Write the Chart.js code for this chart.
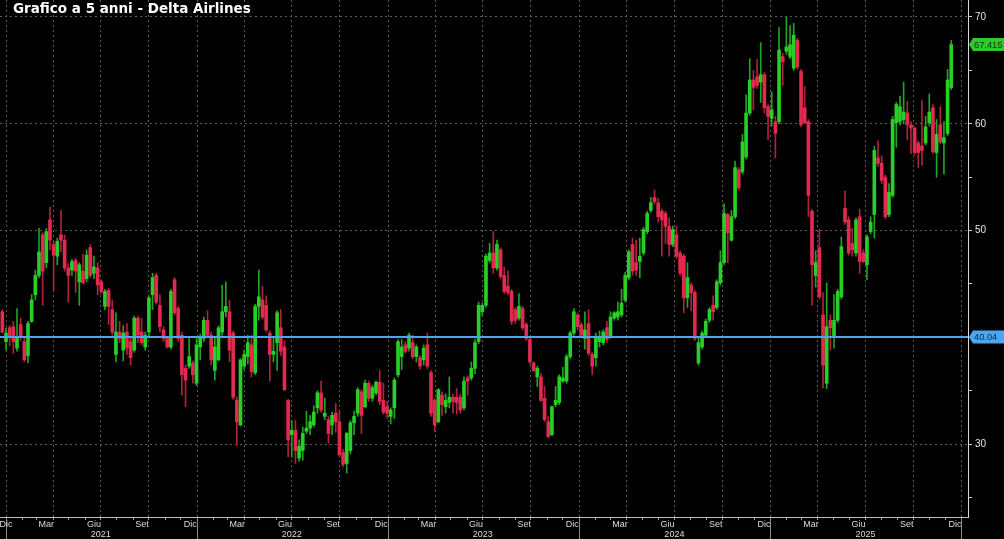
<!DOCTYPE html>
<html>
<head>
<meta charset="utf-8">
<script src="https://cdn.jsdelivr.net/npm/chart.js@4.4.1/dist/chart.umd.min.js"></script>
<style>
  html, body { margin: 0; padding: 0; background: #000; }
  #wrap { width: 1004px; height: 539px; }
</style>
</head>
<body>
<div id="wrap"><canvas id="c" width="1004" height="539"></canvas></div>
<script>
// ---------- DATA ----------
const chartTitle = 'Grafico a 5 anni - Delta Airlines';
const firstWeek = '2020-12-25'; // weekly candles (Fridays)
const monthLabels = ['Dic', 'Mar', 'Giu', 'Set'];
const yearLabels = ['2021', '2022', '2023', '2024', '2025'];
const yTickValues = [25, 30, 35, 40, 45, 50, 55, 60, 65, 70];
const refLevel = 40.04;

const opens = [
42.4,39.6,40.9,41.0,39.0,41.2,39.6,38.3,41.5,44.0,
45.8,49.6,47.0,51.0,48.7,47.6,49.6,49.1,46.5,46.3,
47.2,45.2,46.2,45.5,48.4,46.0,46.5,45.2,42.9,44.4,
42.6,38.4,40.5,38.8,40.5,39.6,38.8,41.8,40.5,39.1,
40.5,44.0,45.8,43.0,40.7,39.9,39.1,45.4,42.7,40.2,
37.1,37.3,37.6,35.7,39.1,39.9,41.6,40.2,36.9,37.9,
40.5,42.4,42.4,40.4,34.1,31.8,37.3,38.2,39.3,36.7,
42.9,43.5,43.0,40.4,38.4,39.5,40.9,39.1,34.1,30.9,
31.3,28.7,29.4,31.2,31.5,31.8,33.4,34.8,32.6,32.3,
31.8,32.9,32.1,29.2,28.2,29.4,32.0,32.9,34.9,33.5,
35.7,34.3,34.8,35.8,34.1,33.5,32.6,33.4,36.5,38.2,
39.3,39.0,39.5,38.2,38.1,37.9,39.3,36.7,34.1,32.1,
34.6,33.5,33.9,34.4,34.4,34.4,33.4,36.2,36.2,37.1,
39.6,42.4,43.0,47.2,47.9,46.5,48.2,45.8,44.8,44.3,
42.6,41.8,42.7,41.2,39.8,37.6,36.3,36.3,34.3,32.1,
30.9,33.7,33.9,35.9,35.9,38.2,40.4,42.1,41.2,39.9,
41.3,38.4,38.1,39.6,39.5,40.9,40.1,41.8,41.9,42.1,
43.5,45.6,48.7,47.0,47.1,47.9,49.9,51.9,53.1,52.6,
51.8,51.6,50.4,48.7,49.6,47.9,47.6,43.7,44.9,44.2,
37.6,39.1,40.2,41.6,43.0,42.8,45.1,47.0,51.5,49.1,
51.3,55.7,55.5,56.9,61.0,64.1,64.4,63.9,64.6,61.6,
60.5,60.2,60.2,66.3,66.8,66.3,65.2,67.8,64.9,61.5,
60.2,51.8,45.8,48.4,42.1,35.7,41.6,40.1,41.6,43.8,
52.1,51.0,48.8,47.9,51.3,47.9,46.8,49.9,51.5,56.8,
56.3,55.0,51.5,53.3,60.1,60.2,60.4,61.0,59.9,59.6,
58.2,57.9,58.2,60.1,61.5,57.3,59.9,58.2,59.1,63.4
];
const highs = [
42.6,40.9,41.1,41.5,42.7,41.8,40.0,41.5,44.0,46.3,
50.2,49.8,50.2,52.2,49.0,49.3,51.9,49.6,46.9,47.3,
47.4,47.0,47.8,48.2,48.7,47.6,47.0,45.4,44.5,44.6,
43.5,42.3,41.5,41.1,41.3,40.0,42.0,42.0,41.8,40.5,
43.9,46.0,46.0,44.0,41.0,40.1,44.5,45.6,42.9,40.5,
37.4,39.9,37.8,39.9,40.3,41.9,42.5,40.5,40.0,41.1,
44.9,45.2,43.5,40.6,34.4,38.0,38.8,40.2,40.2,43.1,
46.3,44.8,43.9,40.6,40.1,42.5,42.6,39.7,34.2,32.2,
32.2,30.4,31.6,33.1,32.7,33.6,35.0,35.9,34.3,32.6,
33.0,33.8,33.2,29.5,31.1,32.2,33.1,35.3,35.1,36.0,
35.9,35.5,35.9,36.9,35.7,34.0,33.4,36.2,39.8,39.8,
39.6,40.4,40.2,39.3,38.3,39.3,40.4,36.9,34.3,35.2,
34.9,34.7,36.3,34.7,35.2,34.7,36.3,36.4,37.7,39.8,
43.3,43.2,47.8,48.8,49.9,49.1,48.4,46.6,46.2,44.5,
42.8,44.1,42.9,41.4,40.0,37.7,37.3,36.6,35.4,32.6,
33.6,35.4,36.5,37.2,38.4,40.6,42.7,42.3,41.4,42.4,
42.6,38.6,40.4,40.6,40.7,41.5,42.4,42.4,43.3,44.5,
46.1,48.2,49.3,49.1,49.3,50.3,51.8,53.1,53.8,53.0,
52.0,51.8,51.2,50.4,50.4,48.1,47.8,47.0,45.1,44.4,
40.0,40.6,41.7,42.8,43.9,45.4,48.1,52.5,51.6,51.9,
56.5,55.9,59.0,62.7,66.1,65.0,66.0,67.6,64.8,61.8,
63.0,60.7,69.0,66.6,70.0,69.2,69.4,68.0,65.1,63.5,
60.4,52.0,48.1,50.1,44.2,45.1,42.1,44.0,44.5,49.4,
53.7,51.3,50.2,51.2,52.0,48.2,49.6,51.3,57.9,58.4,
57.0,55.2,54.4,60.7,62.0,62.6,63.9,62.1,60.2,59.7,
58.4,62.2,60.7,62.8,61.8,60.4,61.6,60.2,65.1,67.8
];
const lows = [
40.4,38.8,39.2,38.5,38.7,39.7,37.7,37.6,41.4,43.5,
45.6,43.0,46.5,48.2,44.4,46.8,48.0,46.2,43.3,45.8,
44.2,43.0,45.0,45.2,45.6,45.5,44.0,44.1,42.6,41.2,
40.2,37.7,39.5,37.8,38.4,37.4,38.6,39.5,39.3,38.8,
40.0,42.6,43.1,40.5,39.6,39.0,38.9,42.1,39.6,34.6,
33.5,37.1,35.7,35.5,37.9,39.6,40.0,37.4,36.0,37.8,
40.2,41.9,37.7,34.2,29.9,31.7,37.0,37.5,36.3,36.5,
41.6,41.7,40.5,35.9,37.7,36.9,38.3,35.0,28.8,28.8,
28.2,28.4,28.5,31.0,30.9,31.6,32.9,33.0,32.3,30.1,
30.9,31.1,28.8,27.9,27.3,29.1,30.9,32.6,31.0,33.4,
34.0,34.0,34.6,33.7,32.8,32.4,31.9,32.4,36.3,37.0,
38.5,38.7,38.0,37.7,37.0,37.4,37.1,32.6,31.2,32.0,
32.7,32.9,33.4,32.9,32.8,32.9,33.2,34.6,36.0,36.6,
39.4,42.0,42.8,47.0,46.0,46.3,45.5,44.1,44.0,41.2,
41.3,41.6,40.7,39.7,37.5,36.8,35.4,34.0,32.1,30.6,
30.8,33.5,33.7,35.8,35.7,38.0,40.2,40.7,40.0,38.9,
38.3,36.5,37.3,39.1,39.3,39.5,39.9,41.6,41.6,41.9,
43.3,45.4,45.8,45.8,45.6,47.7,49.7,51.7,52.5,50.8,
47.6,48.8,47.6,48.5,47.4,45.8,42.3,42.8,42.5,39.7,
37.4,38.9,40.0,41.4,41.6,42.6,44.9,46.8,47.0,49.0,
51.1,53.8,55.3,56.7,60.8,61.3,63.3,62.0,61.0,58.5,
59.8,56.8,60.0,63.6,66.5,66.1,65.0,65.1,59.7,60.0,
51.3,43.0,44.7,43.6,35.3,35.2,38.8,39.0,41.4,43.6,
50.6,47.7,47.6,47.6,46.0,47.0,45.4,49.7,49.3,56.0,
54.4,51.1,51.3,53.1,57.8,59.9,60.0,58.5,57.2,57.1,
55.9,56.1,58.0,59.8,57.2,55.0,58.1,55.3,58.9,63.2
];
const closes = [
40.5,40.4,40.0,39.6,39.9,40.0,37.9,41.3,43.5,45.8,
48.0,46.2,49.9,49.1,47.7,49.0,49.1,46.5,45.8,47.1,
46.2,46.8,45.1,47.7,45.8,46.6,44.9,44.3,44.3,42.9,
40.5,40.5,39.9,40.4,39.0,38.1,41.8,40.2,39.5,40.2,
43.7,45.6,43.3,41.0,39.9,39.1,44.3,42.3,39.9,36.5,
36.0,38.2,36.5,39.3,40.1,41.6,40.2,37.9,39.1,40.9,
42.4,42.9,38.8,34.4,32.1,37.9,38.4,39.5,36.8,42.9,
43.8,41.9,40.7,38.4,38.7,42.3,38.7,35.1,30.4,31.3,
29.4,29.8,31.0,31.5,32.1,33.0,34.8,33.2,32.9,31.0,
32.7,32.1,29.0,28.1,31.0,32.0,32.6,35.1,32.7,35.7,
34.3,35.3,35.8,34.0,33.0,32.9,33.2,36.0,39.6,39.1,
38.7,40.2,38.2,39.1,37.3,39.0,37.3,32.9,31.8,35.1,
33.7,34.1,34.4,34.0,33.9,33.2,35.9,35.9,37.1,39.5,
43.0,43.0,47.6,47.9,46.5,48.7,45.7,44.3,44.2,41.5,
41.6,42.9,40.9,39.9,37.7,36.9,37.1,34.1,32.3,30.7,
33.5,34.1,36.3,36.2,38.2,40.4,42.4,41.0,40.2,40.7,
38.5,37.3,39.9,40.1,40.5,39.8,41.9,42.3,42.4,43.2,
45.8,48.0,46.2,46.3,47.6,50.1,51.6,52.6,52.7,51.3,
51.0,50.4,48.7,50.1,47.6,46.0,43.7,45.6,44.2,39.9,
39.5,40.4,41.5,42.6,42.4,45.2,47.0,51.6,49.8,51.3,
55.9,54.0,58.3,61.0,64.1,63.4,63.6,64.6,61.5,60.7,
61.3,59.1,66.9,65.8,67.2,67.4,68.3,65.3,59.9,60.1,
53.3,46.8,47.0,43.8,37.4,41.0,40.9,41.6,44.3,48.5,
50.8,47.9,48.2,51.0,47.1,47.1,49.4,50.8,57.5,56.3,
54.7,51.3,53.6,60.4,61.8,61.6,61.1,59.9,59.6,57.3,
57.3,57.5,59.7,61.1,57.4,59.0,58.3,58.7,64.1,67.415
];

// ---------- HELPERS ----------
const DAY = 864e5;
const origin = Date.UTC(2021, 0, 1);
const dayOf = (y, m, d) => (Date.UTC(y, m, d) - origin) / DAY;
const startDay = (Date.parse(firstWeek + 'T00:00:00Z') - origin) / DAY;
const weekDays = closes.map((_, i) => startDay + 7 * i);

const X_MIN = -11.5, X_MAX = 1838;
const Y_MIN = 23.18, Y_MAX = 71.59;

const quarterLines = [];
for (let y = 2021; y <= 2025; y++) for (const m of [0, 3, 6, 9]) quarterLines.push(dayOf(y, m, 1));
quarterLines.push(dayOf(2026, 0, 1));
const monthLabelPos = quarterLines.map(d => Math.max(d - 13, 0));
const yearSeparators = [2021, 2022, 2023, 2024, 2025, 2026].map(y => dayOf(y, 0, 1));
const yearLabelPos = yearLabels.map(y => dayOf(+y, 6, 1));
const monthStarts = [];
for (let y = 2020; y <= 2026; y++) for (let m = 0; m < 12; m++) {
  const d = dayOf(y, m, 1);
  if (d > X_MIN && d < X_MAX) monthStarts.push(d);
}

const GREEN = '#27cf27', GREEN_W = '#22a322';
const RED = '#e2294f', RED_W = '#b0223d';
const up = closes.map((c, i) => c >= opens[i]);

const bodyData = closes.map((c, i) => ({ x: weekDays[i], y: [opens[i], c] }));
const wickData = closes.map((c, i) => ({ x: weekDays[i], y: [lows[i], highs[i]] }));

const setTicks = arr => scale => { scale.ticks = arr.map(v => ({ value: v })); };
const fixH = h => scale => {
  scale.height = h;
  scale.paddingLeft = 0; scale.paddingRight = 0; scale.paddingTop = 0; scale.paddingBottom = 0;
};
const baseX = { type: 'linear', position: 'bottom', min: X_MIN, max: X_MAX, offset: false };
const FONT = 'Liberation Sans';

const overlay = {
  id: 'overlay',
  afterDraw(chart) {
    const ctx = chart.ctx;
    const ys = chart.scales.y;
    const ax = chart.chartArea.right;
    const tag = (val, txt, bg, fg) => {
      const yv = ys.getPixelForValue(val);
      ctx.save();
      ctx.fillStyle = bg;
      ctx.beginPath();
      ctx.moveTo(ax + 1, yv);
      ctx.lineTo(ax + 5, yv - 6.5);
      ctx.lineTo(1004, yv - 6.5);
      ctx.lineTo(1004, yv + 6.5);
      ctx.lineTo(ax + 5, yv + 6.5);
      ctx.closePath();
      ctx.fill();
      ctx.fillStyle = fg;
      ctx.font = '9.3px "' + FONT + '"';
      ctx.textBaseline = 'middle';
      ctx.textAlign = 'left';
      ctx.fillText(txt, ax + 6, yv + 0.5);
      ctx.restore();
    };
    tag(refLevel, refLevel.toFixed(2), '#4aa8f2', '#0b2540');
    const last = closes[closes.length - 1];
    tag(last, last.toFixed(3), '#2ec82e', '#0a3a0a');
    ctx.save();
    ctx.fillStyle = '#ffffff';
    ctx.font = 'bold 13.5px "DejaVu Sans"';
    ctx.textBaseline = 'alphabetic';
    ctx.fillText(chartTitle, 13, 13);
    ctx.restore();
  }
};

new Chart(document.getElementById('c'), {
  type: 'bar',
  data: {
    datasets: [
      { type: 'line', data: [{ x: X_MIN, y: refLevel }, { x: X_MAX, y: refLevel }],
        borderColor: '#4aa6f0', borderWidth: 2, pointRadius: 0, order: 0, xAxisID: 'x', yAxisID: 'y' },
      { type: 'bar', data: bodyData, backgroundColor: up.map(u => u ? GREEN : RED),
        barThickness: 3, grouped: false, minBarLength: 1, order: 1, xAxisID: 'x', yAxisID: 'y' },
      { type: 'bar', data: wickData, backgroundColor: up.map(u => u ? GREEN_W : RED_W),
        barThickness: 1, grouped: false, order: 2, xAxisID: 'x', yAxisID: 'y' }
    ]
  },
  options: {
    responsive: false,
    animation: false,
    devicePixelRatio: 1,
    layout: { padding: 0 },
    plugins: { legend: { display: false }, tooltip: { enabled: false }, title: { display: false } },
    scales: {
      xmon: { ...baseX, weight: 0, afterBuildTicks: setTicks(monthStarts), afterFit: fixH(0),
        ticks: { display: false },
        grid: { offset: false, drawOnChartArea: false, drawTicks: true, tickLength: 3, tickColor: '#9a9a9a', color: '#9a9a9a' },
        border: { display: false } },
      xsep: { ...baseX, weight: 1, afterBuildTicks: setTicks(yearSeparators), afterFit: fixH(0),
        ticks: { display: false },
        grid: { offset: false, drawOnChartArea: false, drawTicks: true, tickLength: 22, tickColor: '#8a8a8a', color: '#8a8a8a' },
        border: { display: false } },
      xgrid: { ...baseX, weight: 2, afterBuildTicks: setTicks(quarterLines), afterFit: fixH(0),
        ticks: { display: false },
        grid: { offset: false, drawOnChartArea: true, drawTicks: false, color: '#5c5c5c', lineWidth: 1 },
        border: { display: false, dash: [2, 3] } },
      x: { ...baseX, weight: 3, afterBuildTicks: setTicks(monthLabelPos), afterFit: fixH(12),
        ticks: { autoSkip: false, maxRotation: 0, padding: 2, color: '#dcdcdc',
          font: { family: FONT, size: 9 }, callback: (v, i) => monthLabels[i % 4] },
        grid: { offset: false, display: false, drawTicks: false },
        border: { display: true, color: '#bdbdbd', width: 1 } },
      xyear: { ...baseX, weight: 4, afterBuildTicks: setTicks(yearLabelPos), afterFit: fixH(10),
        ticks: { autoSkip: false, maxRotation: 0, padding: 0, color: '#dcdcdc',
          font: { family: FONT, size: 9 }, callback: (v, i) => yearLabels[i] },
        grid: { offset: false, display: false, drawTicks: false },
        border: { display: false } },
      y: { type: 'linear', position: 'right', min: Y_MIN, max: Y_MAX,
        afterBuildTicks: setTicks(yTickValues),
        afterFit: scale => { scale.width = 36; scale.paddingTop = 0; scale.paddingBottom = 0; },
        ticks: { padding: 3, color: '#e6e6e6', font: { family: FONT, size: 10 },
          callback: v => (v % 10 === 0 ? String(v) : '') },
        grid: { drawOnChartArea: true, drawTicks: true, tickLength: 4,
          color: ctx => (ctx.tick && ctx.tick.value % 10 === 0 ? '#5c5c5c' : 'transparent'),
          tickColor: '#d0d0d0' },
        border: { display: true, color: '#d8d8d8', width: 1, dash: [2, 3] } }
    }
  },
  plugins: [overlay]
});
</script>
</body>
</html>
